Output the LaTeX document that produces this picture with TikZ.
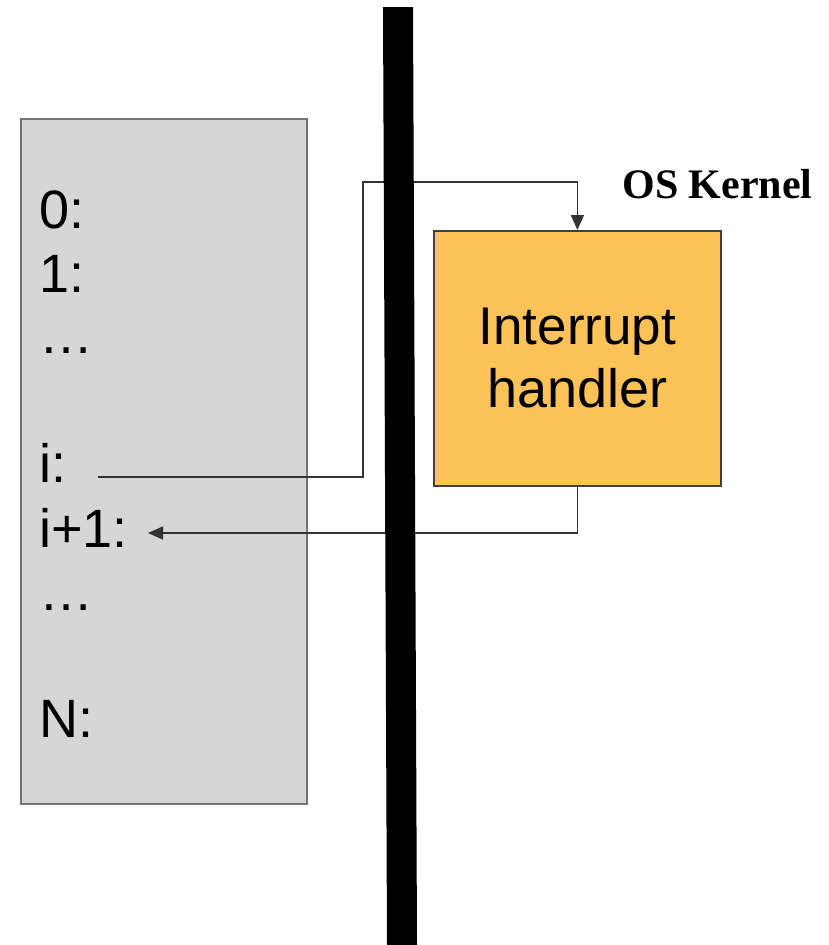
\documentclass[tikz,border=0pt]{standalone}
\usepackage{fontspec}
\setmainfont{Liberation Sans}
\newfontfamily\kernelfont{Liberation Serif}
\usetikzlibrary{positioning}
\usetikzlibrary{calc}
\usetikzlibrary{arrows.meta}

\definecolor{memgray}{RGB}{214,214,214}
\definecolor{handlerorange}{RGB}{251,194,88}

\begin{document}
\begin{tikzpicture}[x=1pt, y=-1pt, font=\fontsize{54}{63}\selectfont,
  slot/.style={anchor=base west, inner sep=0pt},
  flow/.style={draw=black!80, line width=1.6pt, -{Triangle[length=15pt,width=13pt]}}]
  \useasboundingbox (0,0) rectangle (829,945);

    %----------------------------------------------------------
    % Program memory
    %----------------------------------------------------------
  \node[draw=black!55, line width=2pt, fill=memgray, inner sep=0pt,
        minimum width=286pt, minimum height=685pt, anchor=north west] (memory) at (20,118) {};

  \foreach \txt/\y/\nm in {0:/228/l0, 1:/292/l1, …/353/dots1, i:/482/li,
                           i+1:/547/lnext, …/610/dots2, N:/737/lN}
    \node[slot] (\nm) at (39,\y) {\txt};

    %----------------------------------------------------------
    % Kernel side
    %----------------------------------------------------------
  \node[draw=black!75, line width=1.8pt, fill=handlerorange, align=center,
        minimum width=287pt, minimum height=255pt, anchor=north west] (handler) at (433,230)
        {\fontsize{53}{63}\selectfont Interrupt\\handler};
  \node[anchor=base] (kernel) at (717.5,198) {\fontsize{42}{48}\selectfont\kernelfont\bfseries OS Kernel};

    %----------------------------------------------------------
    % Trap and return
    %----------------------------------------------------------
  \coordinate (iout) at (98,477);
  \coordinate (iin) at (148,533);
  \draw[flow] (iout) -| (363,182) -| (handler.north);
  \draw[flow] (handler.south) |- (iin);

  % user / kernel boundary
  \fill[black] (383,7) -- (413,7) -- (417,945) -- (387,945) -- cycle;
\end{tikzpicture}
\end{document}
